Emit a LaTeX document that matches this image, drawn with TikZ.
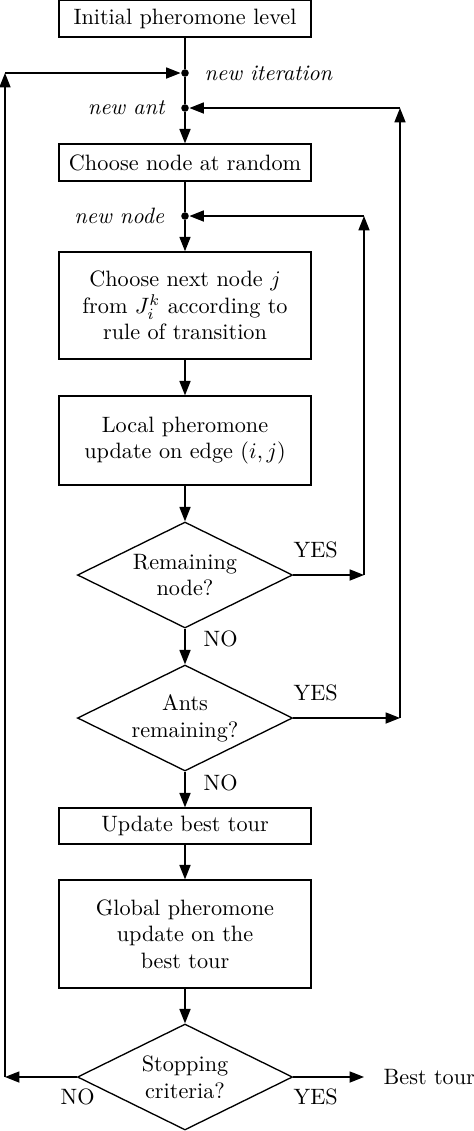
\documentclass[tikz,border=0pt]{standalone}
\usepackage{amsmath}
\usepackage{tikz}
\usetikzlibrary{positioning,shapes,arrows.meta}
\tikzset{
        >={Triangle[length=6.5pt,width=5pt]}, % filled triangle tips
        box/.style={draw, minimum width=113.4pt, align=center, inner sep=0pt}, % process steps
        test/.style={draw, diamond, aspect=2, minimum width=96.8pt, minimum height=47.7pt, inner sep=0pt, align=center}, % decisions
        dot/.style={circle, fill, inner sep=0pt, minimum size=3.4pt}, % junction points
        lbl/.style={inner sep=0pt}, % free text
}
\begin{document}
\begin{tikzpicture}[x=0.45pt,y=-0.45pt,line width=0.6pt]
\useasboundingbox (0,0) rectangle (474,1131);
\node[box,minimum height=16.4pt] (init) at (185,18.75) {Initial pheromone level};
\node[dot] (iterdot) at (185,73) {};
\node[dot] (antdot) at (185,108) {};
\node[box,minimum height=16.6pt] (random) at (185,162.5) {Choose node at random};
\node[dot] (nodedot) at (185,216) {};
\node[box,minimum height=48.2pt] (next) at (185,305.5) {Choose next node $j$\\ from $J_i^k$ according to\\ rule of transition};
\node[box,minimum height=40pt] (local) at (185,440.5) {Local pheromone\\ update on edge $(i,j)$};
\node[test] (d1) at (185,575) {Remaining\\ node?};
\node[test] (d2) at (185,718) {Ants\\ remaining?};
\node[box,minimum height=16.2pt] (best) at (185,826) {Update best tour};
\node[box,minimum height=48.6pt] (global) at (185,934) {Global pheromone\\ update on the\\ best tour};
\node[test] (d3) at (185,1077) {Stopping\\ criteria?};

\node[lbl,anchor=west] (iterlbl) at (204,73) {\textit{new iteration}};
\node[lbl,anchor=east] (antlbl) at (166,108) {\textit{new ant}};
\node[lbl,anchor=east] (nodelbl) at (165,216) {\textit{new node}};
\node[lbl,anchor=west] (yes1) at (293,550) {YES};
\node[lbl,anchor=west] (no1) at (203,639) {NO};
\node[lbl,anchor=west] (yes2) at (293,693) {YES};
\node[lbl,anchor=west] (no2) at (203,783) {NO};
\node[lbl,anchor=west] (no3) at (60,1097) {NO};
\node[lbl,anchor=west] (yes3) at (293,1097) {YES};
\node[lbl,anchor=west] (result) at (383,1077) {Best tour};

\coordinate (nodeR) at (364,575);
\coordinate (nodeT) at (364,216);
\coordinate (antR) at (400,718);
\coordinate (antT) at (400,108);
\coordinate (iterB) at (5,1077);
\coordinate (iterT) at (5,73);
\coordinate (out) at (364,1077);

\draw (init) -- (iterdot) -- (antdot);
\draw (random) -- (nodedot);
\foreach \a/\b in {antdot/random,nodedot/next,next/local,local/d1,d1/d2,d2/best,best/global,global/d3}
  \draw[->] (\a) -- (\b);
\foreach \a/\b in {d1/nodeR,nodeR/nodeT,nodeT/nodedot,d2/antR,antR/antT,antT/antdot,d3/iterB,iterB/iterT,iterT/iterdot,d3/out}
  \draw[->] (\a) -- (\b);
\end{tikzpicture}
\end{document}
